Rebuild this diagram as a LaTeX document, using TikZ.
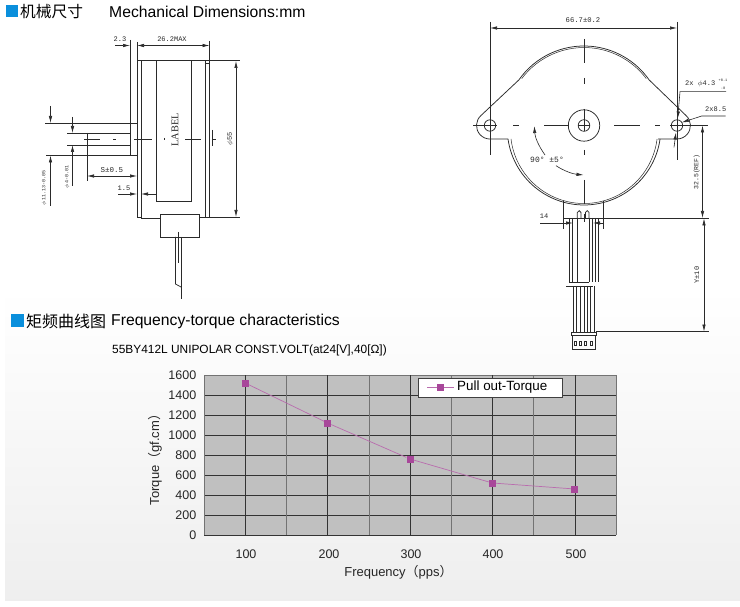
\documentclass[tikz,border=0pt]{standalone}
\usepackage{fontspec}
\usetikzlibrary{arrows.meta}
\setmainfont{Liberation Sans}
\newfontfamily\cjk{Noto Sans CJK SC}
\newfontfamily\cad{Liberation Mono}
\newfontfamily\cadserif{Liberation Serif}
\definecolor{titleblue}{HTML}{0A8FDC}
\definecolor{plotgray}{HTML}{C0C0C0}
\definecolor{curve}{HTML}{A8479A}
\definecolor{ink}{HTML}{2A2A2A}
\tikzset{
    >={Latex[length=7pt,width=3.4pt]},
    part/.style={draw=ink, line width=0.75pt},
    thin part/.style={draw=ink, line width=0.5pt},
    dim/.style={draw=ink, line width=0.6pt, ->},
    dimboth/.style={draw=ink, line width=0.6pt, <->},
    cadtext/.style={font=\cad\fontsize{7}{8}\selectfont, text=ink, inner sep=0pt},
    ticklabel/.style={font=\fontsize{12.5}{14}\selectfont, left, inner sep=0pt, text=black!85},
    catlabel/.style={font=\fontsize{12.5}{14}\selectfont, inner sep=0pt, text=black!85},
    gridline/.style={draw=black!80, line width=0.6pt},
    softline/.style={draw=black!55, line width=0.6pt},
    titlemark/.style={fill=titleblue, draw=none, minimum size=12pt, inner sep=0pt},
    marksq/.style={fill=curve, draw=none, minimum size=7pt, inner sep=0pt},
    curveline/.style={draw=curve!80, line width=0.7pt},
}
\begin{document}
\begin{tikzpicture}[x=1pt, y=-1pt]
    \useasboundingbox (0,0) rectangle (740,607);
    % backdrop
    \fill[white] (0,0) rectangle (740,607);
    \shade[top color=white, bottom color=black!6.5] (5,288) rectangle (740,600);

    % headings
    \node(mark1) at (11.5,11.5) [titlemark] {};
    \node(head1) at (20,12)   [right, inner sep=0pt, font=\cjk\fontsize{15.7}{17}\selectfont] {机械尺寸};
    \node(head2) at (109,12)  [right, inner sep=0pt, font=\fontsize{15.7}{17}\selectfont] {Mechanical Dimensions:mm};
    \node(mark2) at (17.6,320.7) [titlemark, minimum size=13pt] {};
    \node(head3) at (26,321.5) [right, inner sep=0pt, font=\cjk\fontsize{16}{18}\selectfont] {矩频曲线图};
    \node(head4) at (111,321.5) [right, inner sep=0pt, font=\fontsize{15.7}{17}\selectfont] {Frequency-torque characteristics};
    \node(sub)   at (112,350) [right, inner sep=0pt, font=\fontsize{11.9}{13}\selectfont] {55BY412L UNIPOLAR CONST.VOLT(at24[V],40[Ω])};

    % side view
    \draw[part] (137,60.5) -- (240,60.5);
    \draw[part] (199,217.5) -- (240,217.5);
    \draw[part] (141,218.5) -- (160,218.5);
    \draw[part] (137,60.5) -- (137,217) -- (141,217);
    \draw[part] (141,60.5) -- (141,218.5);
    \draw[part] (205,60.5) -- (205,217.5);
    \draw[part] (205,63) -- (209.5,63);
    \draw[part] (209.5,41) -- (209.5,217.5);
    \draw[part] (156.5,60.5) -- (156.5,201.5) -- (191,201.5) -- (191,60.5);
    \draw[part, fill=white] (160,214) rectangle (199,237);
    \draw[part] (175.5,237) -- (175.5,284) -- (181,287);
    \draw[thin part] (178,232) -- (178,263);
    \draw[part] (181,237) -- (181,299);
    \draw[part] (130,40) -- (130,155.5);
    \draw[part] (137,42) -- (137,62);
    \draw[part] (45,123) -- (137,123);
    \draw[part] (46,155.5) -- (137,155.5);
    \draw[part] (67,133) -- (130,133);
    \draw[part] (67,145) -- (130,145);
    \draw[part] (87,133) -- (87,181);
    \draw[part] (137,155.5) -- (137,178);
    \draw[part] (84,139) -- (100,139);
    \draw[part] (113,139) -- (116,139);
    \draw[part] (134,139) -- (152,139);
    \draw[part] (185,139) -- (201,139);
    \draw[part] (164,138) -- (164,140);
    \draw[part] (212,130) -- (212,146);
    \draw[part] (212,139) -- (216,139);
    \draw[dim] (115,45.5) -- (130,45.5);
    \draw[dimboth] (137,45.5) -- (209.5,45.5);
    \draw[dimboth] (236,61) -- (236,217);
    \draw[dim] (50.5,106) -- (50.5,123);
    \draw[dim] (50.5,206) -- (50.5,155.5);
    \draw[dim] (72.5,117) -- (72.5,133);
    \draw[dim] (72.5,186) -- (72.5,145);
    \draw[dimboth] (87,176) -- (137,176);
    \draw[dim] (118,194) -- (137,194);
    \draw[dim] (156.5,194) -- (141,194);
    \node(dim23)    at (120,39)  [cadtext] {2.3};
    \node(dim262)   at (172,39)  [cadtext] {26.2MAX};
    \node(dim55)    at (230,139) [cadtext, rotate=90] {$\phi$55};
    \node(dimlabel) at (175,130) [cadtext, rotate=90, font=\cadserif\fontsize{10.3}{11}\selectfont] {LABEL};
    \node(dims)     at (112,170) [cadtext, font=\cad\fontsize{7.5}{8}\selectfont] {S±0.5};
    \node(dim15)    at (124,188) [cadtext] {1.5};
    \node(dim113)   at (44,188)  [cadtext, rotate=90, font=\cad\fontsize{5}{6}\selectfont] {$\phi$11.13-0.05};
    \node(dim4)     at (67,177)  [cadtext, rotate=90, font=\cad\fontsize{5}{6}\selectfont] {$\phi$4-0.01};

    % front view
    \draw[part] (481.1,115.4) -- (518.8,80) arc[start angle=-145.1, end angle=-34.9, radius=79.5] -- (686,115.5)
        arc[start angle=-47.8, end angle=90, radius=13.5] -- (658,139);
    \draw[part] (481.1,115.4) arc[start angle=-131.3, end angle=-270, radius=13.5] -- (508,139);
    \draw[part] (508,139) arc[start angle=171.9, end angle=8.1, radius=76.8];
    \draw[thin part] (521.7,78.6) arc[start angle=-143, end angle=-37, radius=78];
    \draw[thin part] (511,139) arc[start angle=172.9, end angle=7.1, radius=73.6];
    \draw[part] (584,125.5) circle[radius=15.7];
    \draw[part] (584,125.5) circle[radius=5.8];
    \draw[part] (490,125.5) circle[radius=5.7];
    \draw[part] (677,125.5) circle[radius=5.7];
    \draw[part] (473,125.5) -- (497,125.5);
    \draw[part] (513,125.5) -- (519,125.5);
    \draw[part] (544,125.5) -- (569,125.5);
    \draw[part] (578,125.5) -- (590,125.5);
    \draw[part] (614,125.5) -- (640,125.5);
    \draw[part] (655,125.5) -- (660,125.5);
    \draw[part] (670,125.5) -- (708,125.5);
    \draw[part] (584,39) -- (584,63);
    \draw[part] (584,78) -- (584,84);
    \draw[part] (584,109) -- (584,131);
    \draw[part] (584,150) -- (584,155);
    \draw[part] (584,180) -- (584,204);
    \draw[part] (584,214) -- (584,222);
    \draw[part] (490,22) -- (490,155);
    \draw[part] (677,22) -- (677,160);
    \draw[dimboth] (490,28) -- (677,28);
    \node(dim667) at (583,20) [cadtext, font=\cad\fontsize{7.2}{8}\selectfont] {66.7±0.2};
    % leaders on the right ear
    \draw[dim] (726,91.7) -- (680,91.7) -- (677.7,118.5);
    \draw[dim] (674,147.3) -- (676,132.5);
    \draw[dim] (725.7,116) -- (701.7,116) -- (681.7,122.5);
    \node(dim43) at (685,84)    [right, cadtext] {2x $\phi$4.3};
    \node(tolup) at (723,80)    [cadtext, font=\cad\fontsize{3.6}{4}\selectfont] {+0.1};
    \node(toldn) at (723,88)    [cadtext, font=\cad\fontsize{3.6}{4}\selectfont] {-0};
    \node(dim85) at (715.7,109) [cadtext] {2x8.5};
    % angle
    \draw[dim] (545,155) .. controls (538,145) and (535,137) .. (534.3,126);
    \draw[dim] (556,165.7) .. controls (564,171) and (573,174) .. (583.5,175);
    \node(dim90) at (547,159.5) [cadtext, font=\cad\fontsize{8}{9}\selectfont] {90° ±5°};
    % outlet and wires
    \draw[part] (563.5,201) -- (563.5,229);
    \draw[part] (603,201) -- (603,229);
    \draw[part] (564,218) -- (709,218);
    \draw[part] (577.3,218) -- (577.3,212.5) arc[start angle=-180, end angle=0, radius=1.85] -- (581,218);
    \draw[part] (585.4,218) -- (585.4,212.5) arc[start angle=-180, end angle=0, radius=1.85] -- (589.1,218);
    \draw[part] (569.5,218) -- (569.5,282);
    \draw[part] (572,218) -- (572,282);
    \draw[part] (577.3,218) -- (577.3,282);
    \draw[part] (589.1,218) -- (589.1,282);
    \draw[part] (592,218) -- (592,282);
    \draw[part] (595,218) -- (595,282);
    \draw[part] (598.3,218) -- (598.3,282);
    \draw[part] (569.3,282) -- (589.3,282);
    \draw[part] (566,286) -- (593.3,286);
    \draw[part] (573.3,286) -- (573.3,332);
    \draw[part] (576,286) -- (576,332);
    \draw[part] (580,286) -- (580,332);
    \draw[part] (584,286) -- (584,332);
    \draw[part] (587.3,286) -- (587.3,332);
    \draw[part] (590.7,286) -- (590.7,332);
    \draw[part] (594,286) -- (594,332);
    \draw[part] (571,332) rectangle (596,335);
    \draw[part] (572.3,335) rectangle (595.7,349.3);
    \draw[part] (574.3,341) rectangle (576.3,345);
    \draw[part] (579.3,341) rectangle (581.3,345);
    \draw[part] (584.3,341) rectangle (586.3,345);
    \draw[part] (590.3,341) rectangle (592.3,345);
    \draw[dim] (540,223) -- (573,223);
    \draw[dim] (603,223) -- (593,223);
    \node(dim14) at (544,216) [cadtext] {14};
    \draw[part] (596,331.7) -- (709,331.7);
    \draw[dimboth] (702.5,125.5) -- (702.5,218);
    \draw[dimboth] (704,218.5) -- (704,331.5);
    \node(dim325) at (696.7,172) [cadtext, rotate=90, font=\cad\fontsize{6.5}{7}\selectfont] {32.5(REF)};
    \node(dimy)   at (696.7,275) [cadtext, rotate=90] {Y±10};

    % chart
    \fill[plotgray] (204,375) rectangle (616,535);
    \draw[gridline] (204,395) -- (616,395);
    \draw[gridline] (204,415) -- (616,415);
    \draw[gridline] (204,435) -- (616,435);
    \draw[gridline] (204,455) -- (616,455);
    \draw[gridline] (204,475) -- (616,475);
    \draw[gridline] (204,495) -- (616,495);
    \draw[gridline] (204,515) -- (616,515);
    \draw[softline] (204,375) -- (616,375);
    \draw[softline] (204,375) -- (204,535);
    \draw[softline] (286.4,375) -- (286.4,535);
    \draw[softline] (368.8,375) -- (368.8,535);
    \draw[softline] (451.2,375) -- (451.2,535);
    \draw[softline] (533.6,375) -- (533.6,535);
    \draw[softline] (616,375) -- (616,535);
    \draw[gridline] (245.2,375) -- (245.2,535);
    \draw[gridline] (327.6,375) -- (327.6,535);
    \draw[gridline] (410,375) -- (410,535);
    \draw[gridline] (492.4,375) -- (492.4,535);
    \draw[gridline] (574.8,375) -- (574.8,535);
    \draw[gridline] (204,535) -- (616,535);
    \node(p1) at (245.2,383) [marksq] {};
    \node(p2) at (327.6,423) [marksq] {};
    \node(p3) at (410,459)   [marksq] {};
    \node(p4) at (492.4,483) [marksq] {};
    \node(p5) at (574.8,489) [marksq] {};
    \draw[curveline] (p1) -- (p2);
    \draw[curveline] (p2) -- (p3);
    \draw[curveline] (p3) -- (p4);
    \draw[curveline] (p4) -- (p5);
    \node(legend) at (418,378) [below right, inner sep=0pt, minimum width=144pt, minimum height=18.5pt, fill=white, draw=black!75, line width=0.6pt] {};
    \coordinate(leg1) at (427,387.5);
    \coordinate(leg2) at (454,387.5);
    \draw[curveline] (leg1) -- (leg2);
    \node(legm) at (440.7,387.5) [marksq] {};
    \node(legt) at (457,387.5) [right, inner sep=0pt, font=\fontsize{13.4}{15}\selectfont] {Pull out-Torque};
    \node(t0)    at (196.5,535) [ticklabel] {0};
    \node(t200)  at (196.5,515) [ticklabel] {200};
    \node(t400)  at (196.5,495) [ticklabel] {400};
    \node(t600)  at (196.5,475) [ticklabel] {600};
    \node(t800)  at (196.5,455) [ticklabel] {800};
    \node(t1000) at (196.5,435) [ticklabel] {1000};
    \node(t1200) at (196.5,415) [ticklabel] {1200};
    \node(t1400) at (196.5,395) [ticklabel] {1400};
    \node(t1600) at (196.5,375) [ticklabel] {1600};
    \node(f100) at (246,554) [catlabel] {100};
    \node(f200) at (329,554) [catlabel] {200};
    \node(f300) at (411,554) [catlabel] {300};
    \node(f400) at (493,554) [catlabel] {400};
    \node(f500) at (576,554) [catlabel] {500};
    \node(xname) at (398.5,572.5) [catlabel, font=\fontsize{13}{15}\selectfont] {Frequency{\cjk（}pps{\cjk）}};
    \node(yname) at (155,456.5) [catlabel, rotate=90, font=\fontsize{13}{15}\selectfont] {Torque{\cjk（}gf.cm{\cjk）}};
\end{tikzpicture}
\end{document}
